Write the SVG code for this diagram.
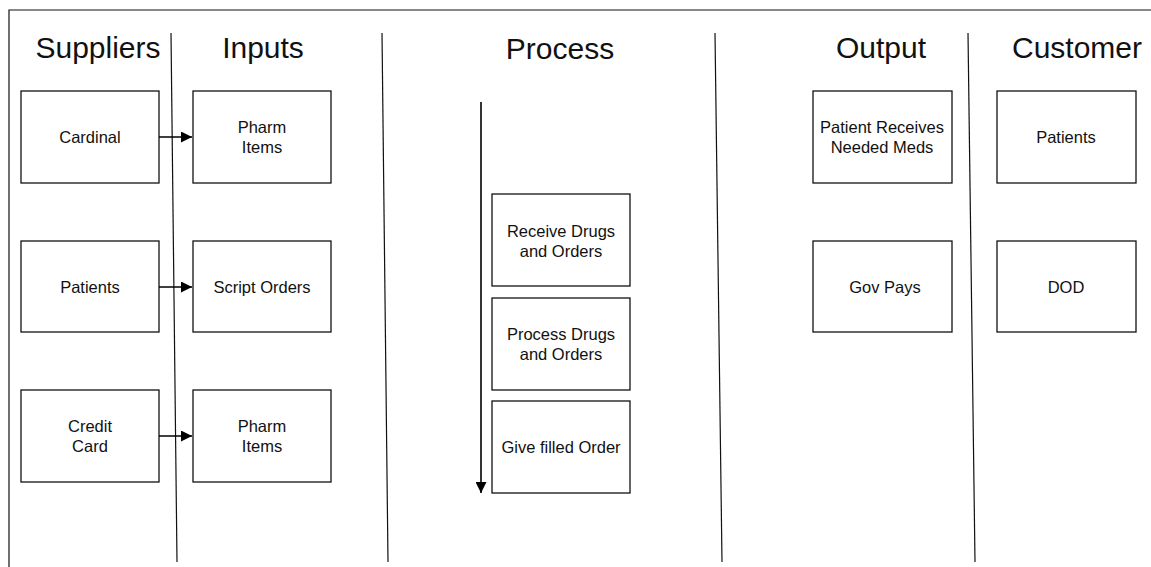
<svg xmlns="http://www.w3.org/2000/svg" width="1151" height="567" viewBox="0 0 1151 567">
<style>
.box{fill:#fff;stroke:#111;stroke-width:1.3}
.t{font-family:"Liberation Sans",Arial,sans-serif;font-size:16.5px;fill:#111;text-anchor:middle}
.h{font-family:"Liberation Sans",Arial,sans-serif;font-size:30px;fill:#111;text-anchor:middle}
.ln{stroke:#111;stroke-width:1.2;fill:none}
.ar{stroke:#000;stroke-width:1.6;fill:none;marker-end:url(#ah)}
</style>
<defs>
<marker id="ah" viewBox="0 0 10 10" refX="10" refY="5" markerUnits="userSpaceOnUse" markerWidth="11" markerHeight="11" orient="auto">
<path d="M0,0 L10,5 L0,10 Z" fill="#000"/>
</marker>
</defs>
<rect width="1151" height="567" fill="#fff"/>
<g id="frame">
<path class="ln" d="M9,567 V10 H1151"/>
<line class="ln" x1="171" y1="33" x2="177" y2="562"/>
<line class="ln" x1="382" y1="33" x2="388" y2="562"/>
<line class="ln" x1="715" y1="33" x2="722" y2="562"/>
<line class="ln" x1="968" y1="33" x2="975" y2="562"/>
</g>
<g id="headers">
<text class="h" x="98" y="58">Suppliers</text>
<text class="h" x="263" y="58">Inputs</text>
<text class="h" x="560" y="59">Process</text>
<text class="h" x="881" y="58">Output</text>
<text class="h" x="1077" y="58">Customer</text>
</g>
<g id="n-cardinal"><rect class="box" x="21" y="91" width="138" height="92"/><text class="t" x="90" y="143">Cardinal</text></g>
<g id="n-patients-s"><rect class="box" x="21" y="241" width="138" height="91"/><text class="t" x="90" y="293">Patients</text></g>
<g id="n-credit"><rect class="box" x="21" y="390" width="138" height="92"/><text class="t" x="90" y="432">Credit</text><text class="t" x="90" y="452">Card</text></g>
<g id="n-pharm1"><rect class="box" x="193" y="91" width="138" height="92"/><text class="t" x="262" y="133">Pharm</text><text class="t" x="262" y="153">Items</text></g>
<g id="n-script"><rect class="box" x="193" y="241" width="138" height="91"/><text class="t" x="262" y="293">Script Orders</text></g>
<g id="n-pharm2"><rect class="box" x="193" y="390" width="138" height="92"/><text class="t" x="262" y="432">Pharm</text><text class="t" x="262" y="452">Items</text></g>
<g id="n-receive"><rect class="box" x="492" y="194" width="138" height="92"/><text class="t" x="561" y="237">Receive Drugs</text><text class="t" x="561" y="257">and Orders</text></g>
<g id="n-processd"><rect class="box" x="492" y="298" width="138" height="92"/><text class="t" x="561" y="340">Process Drugs</text><text class="t" x="561" y="360">and Orders</text></g>
<g id="n-give"><rect class="box" x="492" y="401" width="138" height="92"/><text class="t" x="561" y="453">Give filled Order</text></g>
<g id="n-output1"><rect class="box" x="813" y="91" width="139" height="92"/><text class="t" x="882" y="133">Patient Receives</text><text class="t" x="882" y="153">Needed Meds</text></g>
<g id="n-gov"><rect class="box" x="813" y="241" width="139" height="91"/><text class="t" x="885" y="293">Gov Pays</text></g>
<g id="n-patients-c"><rect class="box" x="997" y="91" width="139" height="92"/><text class="t" x="1066" y="143">Patients</text></g>
<g id="n-dod"><rect class="box" x="997" y="241" width="139" height="91"/><text class="t" x="1066" y="293">DOD</text></g>
<g id="connectors">
<line class="ar" x1="159" y1="137" x2="192" y2="137"/>
<line class="ar" x1="159" y1="287" x2="192" y2="287"/>
<line class="ar" x1="159" y1="436" x2="192" y2="436"/>
<line class="ar" x1="481" y1="102" x2="481" y2="493"/>
</g>
</svg>
